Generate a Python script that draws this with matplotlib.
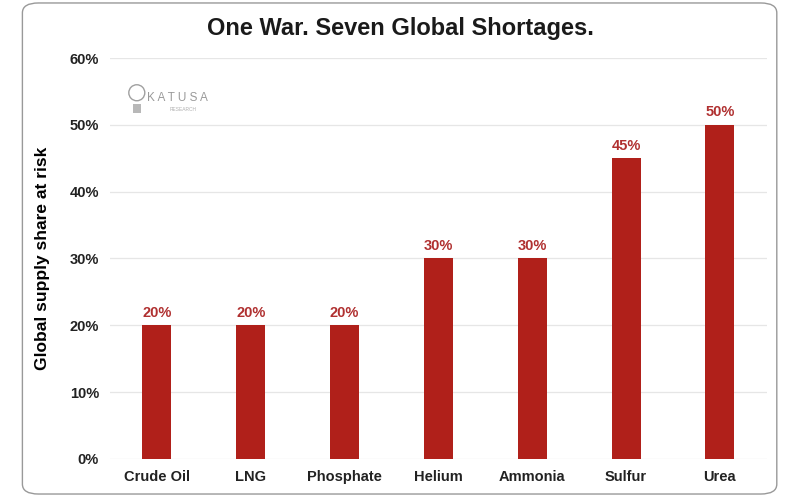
import matplotlib.pyplot as plt
from matplotlib.patches import FancyBboxPatch, Ellipse, Rectangle

plt.rcParams['font.family'] = ['Liberation Sans', 'DejaVu Sans']

categories = ['Crude Oil', 'LNG', 'Phosphate', 'Helium', 'Ammonia', 'Sulfur', 'Urea']
shares = [20, 20, 20, 30, 30, 45, 50]
yticks = [0, 10, 20, 30, 40, 50, 60]

bar_color = '#B0201A'
label_color = '#B03030'

fig = plt.figure(figsize=(8, 4.96), dpi=100)
fig.patches.append(FancyBboxPatch((0.028, 0.004), 0.943, 0.99, boxstyle='round,pad=0,rounding_size=0.02',
                                  transform=fig.transFigure, fill=False, edgecolor='#999999', lw=1.0))

ax = fig.add_axes([0.1375, 0.075, 0.821, 0.808])
x = range(len(categories))
ax.bar(x, shares, width=0.31, color=bar_color, zorder=3)
for xi, v in zip(x, shares):
    ax.text(xi, v + 0.8, f'{v}%', ha='center', va='bottom', color=label_color,
            fontsize=10.5, fontweight='bold')

ax.set_xlim(-0.5, len(categories) - 0.5)
ax.set_ylim(0, 60)
ax.set_yticks(yticks)
ax.set_yticklabels([f'{t}%' for t in yticks], fontsize=10.5, fontweight='bold', color='#222222')
ax.set_xticks(list(x))
ax.set_xticklabels(categories, fontsize=10.5, fontweight='bold', color='#222222')
ax.tick_params(length=0, pad=8)
ax.grid(axis='y', color='#e6e6e6', lw=0.9, zorder=0)
for s in ax.spines.values():
    s.set_visible(False)
ax.set_ylabel('Global supply share at risk', fontsize=12.5, fontweight='bold', labelpad=14)

fig.text(0.5, 0.943, 'One War. Seven Global Shortages.', ha='center', va='center',
         fontsize=17, fontweight='bold', color='#1a1a1a')

# watermark
fig.text(0.184, 0.803, 'K A T U S A', fontsize=8.5, color='#9a9a9a', va='center')
fig.text(0.212, 0.78, 'RESEARCH', fontsize=3.5, color='#b0b0b0', va='center')
fig.patches.append(Ellipse((0.171, 0.813), 0.02, 0.02 * 800 / 496, transform=fig.transFigure,
                           fill=False, edgecolor='#a0a0a0', lw=1.0))
fig.patches.append(Rectangle((0.166, 0.773), 0.01, 0.018, transform=fig.transFigure,
                             facecolor='#b8b8b8', edgecolor='none'))

fig.savefig('out.png', dpi=100)
